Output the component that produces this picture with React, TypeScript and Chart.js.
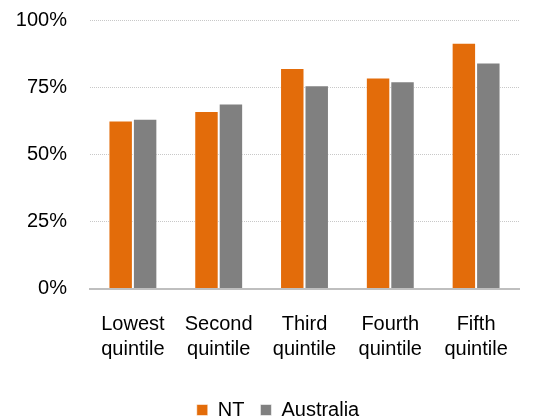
import React, { useEffect, useRef } from "react";
import { Chart, registerables } from "chart.js";

Chart.register(...registerables);

// Income quintiles on the x axis, two lines per label
const categories: string[][] = [
  ["Lowest", "quintile"],
  ["Second", "quintile"],
  ["Third", "quintile"],
  ["Fourth", "quintile"],
  ["Fifth", "quintile"],
];

// Percentages per quintile
const ntValues = [62.6, 66.1, 82.1, 78.6, 91.5];
const australiaValues = [63.2, 68.9, 75.7, 77.2, 84.2];

// Y axis ticks (percent)
const yTicks = [0, 25, 50, 75, 100];

const FONT = "'Liberation Sans', Arial, sans-serif";

// Legend sits tight against the bottom edge, centred a bit to the right
const legendPlacement = {
  id: "legendPlacement",
  beforeInit(chart: any) {
    const legend = chart.legend;
    if (!legend) return;
    const fit = legend.fit;
    legend.fit = function () {
      fit.call(this);
      this.height -= 11;
    };
  },
  afterLayout(chart: any) {
    const legend = chart.legend;
    if (!legend) return;
    legend.left += 18.5;
    legend.right += 18.5;
  },
};

export default function App() {
  const canvasRef = useRef<HTMLCanvasElement | null>(null);

  useEffect(() => {
    const canvas = canvasRef.current;
    if (!canvas) return;
    const chart = new Chart(canvas, {
      type: "bar",
      data: {
        labels: categories,
        datasets: [
          {
            label: "NT",
            data: ntValues,
            backgroundColor: "#E36C0A",
            borderColor: "rgba(255,255,255,0.55)",
            borderWidth: 1,
          },
          {
            label: "Australia",
            data: australiaValues,
            backgroundColor: "#808080",
            borderColor: "rgba(255,255,255,0.55)",
            borderWidth: 1,
          },
        ],
      },
      plugins: [legendPlacement],
      options: {
        animation: false,
        responsive: true,
        maintainAspectRatio: false,
        datasets: {
          bar: { categoryPercentage: 0.57, barPercentage: 1 },
        },
        layout: { padding: { top: 20, right: 17, left: 0, bottom: 0 } },
        plugins: {
          legend: {
            position: "bottom",
            labels: {
              font: { family: FONT, size: 20 },
              color: "#000",
              boxWidth: 11,
              boxHeight: 11,
              padding: 16,
            },
          },
          tooltip: { enabled: false },
        },
        scales: {
          x: {
            afterFit: (scale: any) => {
              scale.height += 6.5;
            },
            grid: { display: false },
            border: { display: true, color: "#BFBFBF", width: 2 },
            ticks: {
              font: { family: FONT, size: 20, lineHeight: 1.25 },
              color: "#000",
              padding: 15.5,
              maxRotation: 0,
              autoSkip: false,
            },
          },
          y: {
            min: 0,
            max: 100,
            afterFit: (scale: any) => {
              scale.width = 90;
              scale.paddingTop = 0;
              scale.paddingBottom = 0;
            },
            afterBuildTicks: (scale: any) => {
              scale.ticks = yTicks.map((v) => ({ value: v }));
            },
            grid: { color: "#C8C8C8", lineWidth: 1, drawTicks: false },
            border: { display: false, dash: [1, 1] },
            ticks: {
              font: { family: FONT, size: 20 },
              color: "#000",
              padding: 23,
              callback: (v: any) => `${v}%`,
            },
          },
        },
      },
    });
    return () => chart.destroy();
  }, []);

  return (
    <div style={{ position: "fixed", left: 0, top: 0, width: 536, height: 419, background: "#fff" }}>
      <canvas ref={canvasRef} />
    </div>
  );
}
